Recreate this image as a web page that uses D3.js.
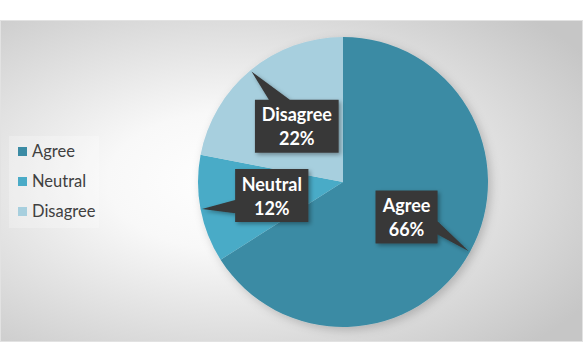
<!DOCTYPE html>
<html>
<head>
<meta charset="utf-8">
<script src="https://cdn.jsdelivr.net/npm/d3@7"></script>
<style>
  body { margin: 0; background: #fff; }
  svg { display: block; }
</style>
</head>
<body>
<div id="chart"></div>
<script>
var categories = ["Agree", "Neutral", "Disagree"];
var values = [66, 12, 22];
var sliceColors = ["#3b8ba4", "#4aabc7", "#a7cfde"];

var width = 585,
    height = 344,
    cx = 343,
    cy = 182,
    radius = 145;

var svg = d3.select("#chart").append("svg")
    .attr("width", width)
    .attr("height", height);

var defs = svg.append("defs");

/* background radial gradient, white around the left of the pie */
var grad = defs.append("radialGradient")
    .attr("id", "bg")
    .attr("cx", 0.4).attr("cy", 0.5).attr("r", 0.72);
grad.append("stop").attr("offset", "0%").attr("stop-color", "#ffffff");
grad.append("stop").attr("offset", "30%").attr("stop-color", "#f8f8f8");
grad.append("stop").attr("offset", "100%").attr("stop-color", "#c6c6c6");

var shadow = defs.append("filter").attr("id", "shadow")
    .attr("x", "-20%").attr("y", "-20%").attr("width", "150%").attr("height", "150%");
shadow.append("feDropShadow")
    .attr("dx", 2).attr("dy", 2).attr("stdDeviation", 2)
    .attr("flood-color", "#000").attr("flood-opacity", 0.35);

var pieShadow = defs.append("filter").attr("id", "pieShadow")
    .attr("x", "-20%").attr("y", "-20%").attr("width", "140%").attr("height", "140%");
pieShadow.append("feDropShadow")
    .attr("dx", 3).attr("dy", 3).attr("stdDeviation", 5)
    .attr("flood-color", "#000").attr("flood-opacity", 0.2);

svg.append("rect")
    .attr("x", 0.5).attr("y", 20.5)
    .attr("width", 582).attr("height", 321)
    .attr("fill", "url(#bg)")
    .attr("stroke", "#e2e2e2");

var color = d3.scaleOrdinal().domain(categories).range(sliceColors);

var pie = d3.pie().sort(null).value(function(d) { return d.value; });
var data = pie(categories.map(function(c, i) { return {name: c, value: values[i]}; }));

var arc = d3.arc().innerRadius(0).outerRadius(radius);
var tipArc = d3.arc().innerRadius(radius * 0.99).outerRadius(radius * 0.99);

var g = svg.append("g").attr("transform", "translate(" + cx + "," + cy + ")");

g.append("g").attr("filter", "url(#pieShadow)")
  .selectAll("path")
  .data(data)
  .enter().append("path")
    .attr("d", arc)
    .attr("fill", function(d) { return color(d.data.name); });

/* callout labels */
var boxH = 53;
var labels = g.selectAll(".callout")
    .data(data)
    .enter().append("g")
    .attr("class", "callout");

labels.each(function(d) {
    var el = d3.select(this);
    var c = arc.centroid(d);
    var tip = tipArc.centroid(d);

    var path = el.append("path")
        .attr("fill", "#383838")
        .attr("filter", "url(#shadow)");

    var txt = el.append("text")
        .attr("text-anchor", "middle")
        .attr("fill", "#ffffff")
        .style("font-family", "Lato, 'Open Sans', sans-serif")
        .style("font-weight", "bold")
        .style("font-size", "18px");
    txt.append("tspan").attr("x", c[0]).attr("y", c[1] - 5).text(d.data.name);
    txt.append("tspan").attr("x", c[0]).attr("y", c[1] + 19).text(d.data.value + "%");

    var w = txt.node().getBBox().width + 13;
    var x0 = c[0] - w / 2, y0 = c[1] - boxH / 2;
    var dx = tip[0] - c[0], dy = tip[1] - c[1];
    var dq = dx * boxH / w;
    var x1 = x0 + w * (dx > 0 ? 7 : 2) / 12,
        x2 = x0 + w * (dx > 0 ? 10 : 5) / 12,
        y1 = y0 + boxH * (dy > 0 ? 7 : 2) / 12,
        y2 = y0 + boxH * (dy > 0 ? 10 : 5) / 12;
    var vertical = Math.abs(dy) > Math.abs(dq);

    var p = d3.path();
    p.moveTo(x0, y0);
    if (vertical && dy < 0) { p.lineTo(x1, y0); p.lineTo(tip[0], tip[1]); p.lineTo(x2, y0); }
    p.lineTo(x0 + w, y0);
    if (!vertical && dx > 0) { p.lineTo(x0 + w, y1); p.lineTo(tip[0], tip[1]); p.lineTo(x0 + w, y2); }
    p.lineTo(x0 + w, y0 + boxH);
    if (vertical && dy > 0) { p.lineTo(x2, y0 + boxH); p.lineTo(tip[0], tip[1]); p.lineTo(x1, y0 + boxH); }
    p.lineTo(x0, y0 + boxH);
    if (!vertical && dx < 0) { p.lineTo(x0, y2); p.lineTo(tip[0], tip[1]); p.lineTo(x0, y1); }
    p.closePath();
    path.attr("d", p.toString());
});

/* legend */
svg.append("rect")
    .attr("x", 9).attr("y", 136)
    .attr("width", 90).attr("height", 92)
    .attr("fill", "#ffffff").attr("fill-opacity", 0.25);

var leg = svg.append("g")
    .attr("transform", "translate(18,157)")
    .selectAll("g")
    .data(categories)
    .enter().append("g")
    .attr("transform", function(d, i) { return "translate(0," + i * 30 + ")"; });

leg.append("rect")
    .attr("x", 0).attr("y", -10)
    .attr("width", 9).attr("height", 9)
    .attr("fill", color);

leg.append("text")
    .attr("x", 14)
    .attr("fill", "#404040")
    .style("font-family", "Lato, 'Open Sans', sans-serif")
    .style("font-size", "16.5px")
    .text(function(d) { return d; });
</script>
</body>
</html>
